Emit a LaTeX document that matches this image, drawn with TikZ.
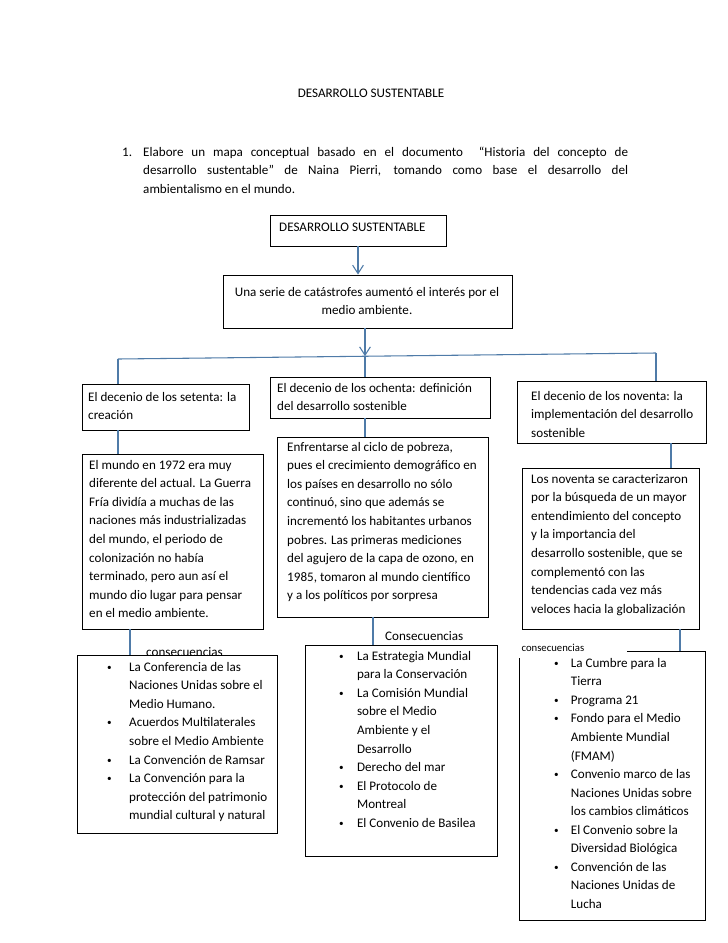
\documentclass[tikz,border=0pt]{standalone}
\usepackage{fontspec}
\setmainfont{Carlito}
\usetikzlibrary{arrows.meta,fit}
\definecolor{linkblue}{HTML}{4F7BA8}
\newcommand{\smallbul}{\raisebox{0.8pt}{\scalebox{0.7}{\textbullet}}}
\newcommand{\lstbul}[2]{\makebox[#1][l]{\smallbul}#2}
\newcommand{\lstcont}[2]{\hspace*{#1}#2}
\begin{document}
\begin{tikzpicture}[x=0.8407pt,y=-0.8407pt,
  box/.style={draw=black, line width=0.8pt, inner sep=0pt, fill=white},
  conn/.style={draw=linkblue, line width=0.9pt},
  arr/.style={conn, -{Straight Barb[length=7pt,width=9pt,line width=0.9pt]}},
  txt/.style={anchor=north west, inner sep=0pt, align=left, font=\fontsize{11}{15.6}\selectfont},
  lbl/.style={anchor=west, inner sep=0pt, font=\fontsize{11}{13}\selectfont},
]
\useasboundingbox (0,0) rectangle (728,943);

% heading
\node[txt, anchor=center] (title) at (371,93) {DESARROLLO SUSTENTABLE};
\node[txt] (num) at (122,143) {\strut 1.};
\node[txt, text width=407.7pt, align=justify] (para) at (143,143) {\strut Elabore un mapa conceptual basado en el documento \ “Historia del concepto de\linebreak desarrollo sustentable” de Naina Pierri, tomando como base el desarrollo del\linebreak ambientalismo en el mundo.};

% top boxes
\node[box, fit={(270,215) (446,246)}] (b1) {};
\node[txt] (b1t) at (279,218) {\strut DESARROLLO SUSTENTABLE};
\node[box, fit={(223,275) (512,328)}] (b2) {};
\node[txt, align=center, anchor=north] (b2t) at (367,283) {\strut Una serie de catástrofes aumentó el interés por el\\ medio ambiente.};

% second row
\node[box, fit={(82,384) (249,430)}] (c1a) {};
\node[txt] (c1at) at (88,388) {\strut El decenio de los setenta: la\\ creación};
\node[box, fit={(270,377) (490,418)}] (c2a) {};
\node[txt] (c2at) at (277,379) {\strut El decenio de los ochenta: definición\\ del desarrollo sostenible};
\node[box, fit={(517,381) (706,443)}] (c3a) {};
\node[txt] (c3at) at (531,387) {\strut El decenio de los noventa: la\\ implementación del desarrollo\\ sostenible};

% third row
\node[box, fit={(82,454) (263,629)}] (c1b) {};
\node[txt] (c1bt) at (89,456) {\strut El mundo en 1972 era muy\\ diferente del actual. La Guerra\\ Fría dividía a muchas de las\\ naciones más industrializadas\\ del mundo, el periodo de\\ colonización no había\\ terminado, pero aun así el\\ mundo dio lugar para pensar\\ en el medio ambiente.};
\node[box, fit={(277,437) (488,617)}] (c2b) {};
\node[txt] (c2bt) at (287,438) {\strut Enfrentarse al ciclo de pobreza,\\ pues el crecimiento demográfico en\\ los países en desarrollo no sólo\\ continuó, sino que además se\\ incrementó los habitantes urbanos\\ pobres. Las primeras mediciones\\ del agujero de la capa de ozono, en\\ 1985, tomaron al mundo científico\\ y a los políticos por sorpresa};
\node[box, fit={(522,468) (699,629)}] (c3b) {};
\node[txt] (c3bt) at (531,470) {\strut Los noventa se caracterizaron\\ por la búsqueda de un mayor\\ entendimiento del concepto\\ y la importancia del\\ desarrollo sostenible, que se\\ complementó con las\\ tendencias cada vez más\\ veloces hacia la globalización};

% labels and lists
\node[lbl] (k1) at (146,652.5) {consecuencias};
\node[box, fit={(77,655) (277,833)}] (c1c) {};
\node[txt] (c1ct) at (107,658) {\strut\lstbul{18.5pt}{La Conferencia de las}\\
 \lstcont{18.5pt}{Naciones Unidas sobre el}\\
 \lstcont{18.5pt}{Medio Humano.}\\
 \lstbul{18.5pt}{Acuerdos Multilaterales}\\
 \lstcont{18.5pt}{sobre el Medio Ambiente}\\
 \lstbul{18.5pt}{La Convención de Ramsar}\\
 \lstbul{18.5pt}{La Convención para la}\\
 \lstcont{18.5pt}{protección del patrimonio}\\
 \lstcont{18.5pt}{mundial cultural y natural}};

\node[lbl] (k2) at (385,636) {Consecuencias};
\node[box, fit={(305,645) (497,856)}] (c2c) {};
\node[txt] (c2ct) at (339,647) {\strut\lstbul{15pt}{La Estrategia Mundial}\\
 \lstcont{15pt}{para la Conservación}\\
 \lstbul{15pt}{La Comisión Mundial}\\
 \lstcont{15pt}{sobre el Medio}\\
 \lstcont{15pt}{Ambiente y el}\\
 \lstcont{15pt}{Desarrollo}\\
 \lstbul{15pt}{Derecho del mar}\\
 \lstbul{15pt}{El Protocolo de}\\
 \lstcont{15pt}{Montreal}\\
 \lstbul{15pt}{El Convenio de Basilea}};

\node[box, fit={(519,651) (705,920)}] (c3c) {};
\node[anchor=south west, fill=white, inner sep=0pt, minimum width=93pt, minimum height=16pt, text width=93pt, align=left, font=\fontsize{9}{11}\selectfont] (k3) at (516,658) {\hspace*{4.5pt}consecuencias};
\node[txt] (c3ct) at (554,654) {\strut\lstbul{14pt}{La Cumbre para la}\\
 \lstcont{14pt}{Tierra}\\
 \lstbul{14pt}{Programa 21}\\
 \lstbul{14pt}{Fondo para el Medio}\\
 \lstcont{14pt}{Ambiente Mundial}\\
 \lstcont{14pt}{(FMAM)}\\
 \lstbul{14pt}{Convenio marco de las}\\
 \lstcont{14pt}{Naciones Unidas sobre}\\
 \lstcont{14pt}{los cambios climáticos}\\
 \lstbul{14pt}{El Convenio sobre la}\\
 \lstcont{14pt}{Diversidad Biológica}\\
 \lstbul{14pt}{Convención de las}\\
 \lstcont{14pt}{Naciones Unidas de}\\
 \lstcont{14pt}{Lucha}};

% connectors
\coordinate (barL) at (118,359);
\coordinate (barR) at (656,353);
\coordinate (hub) at (365,356.2);
\coordinate (v1) at (130,0);
\coordinate (v2) at (373,0);
\coordinate (v3) at (671,0);
\coordinate (v4) at (680,0);
\draw[arr] (b1.south) -- (b1.south |- b2.north);
\draw[arr] (b2.south -| hub) -- (hub);
\draw[conn] (barL) -- (barR);
\draw[conn] (barL) -- (barL |- c1a.north);
\draw[conn] (hub) -- (hub |- c2a.north);
\draw[conn] (barR) -- (barR |- c3a.north);
\draw[conn] (c1a.south -| barL) -- (c1b.north -| barL);
\draw[conn] (c2a.south -| hub) -- (c2b.north -| hub);
\draw[conn] (c3a.south -| v3) -- (c3b.north -| v3);
\draw[conn] (c1b.south -| v1) -- (c1c.north -| v1);
\draw[conn] (c2b.south -| v2) -- (c2c.north -| v2);
\draw[conn] (c3b.south -| v4) -- (c3c.north -| v4);
\end{tikzpicture}
\end{document}
